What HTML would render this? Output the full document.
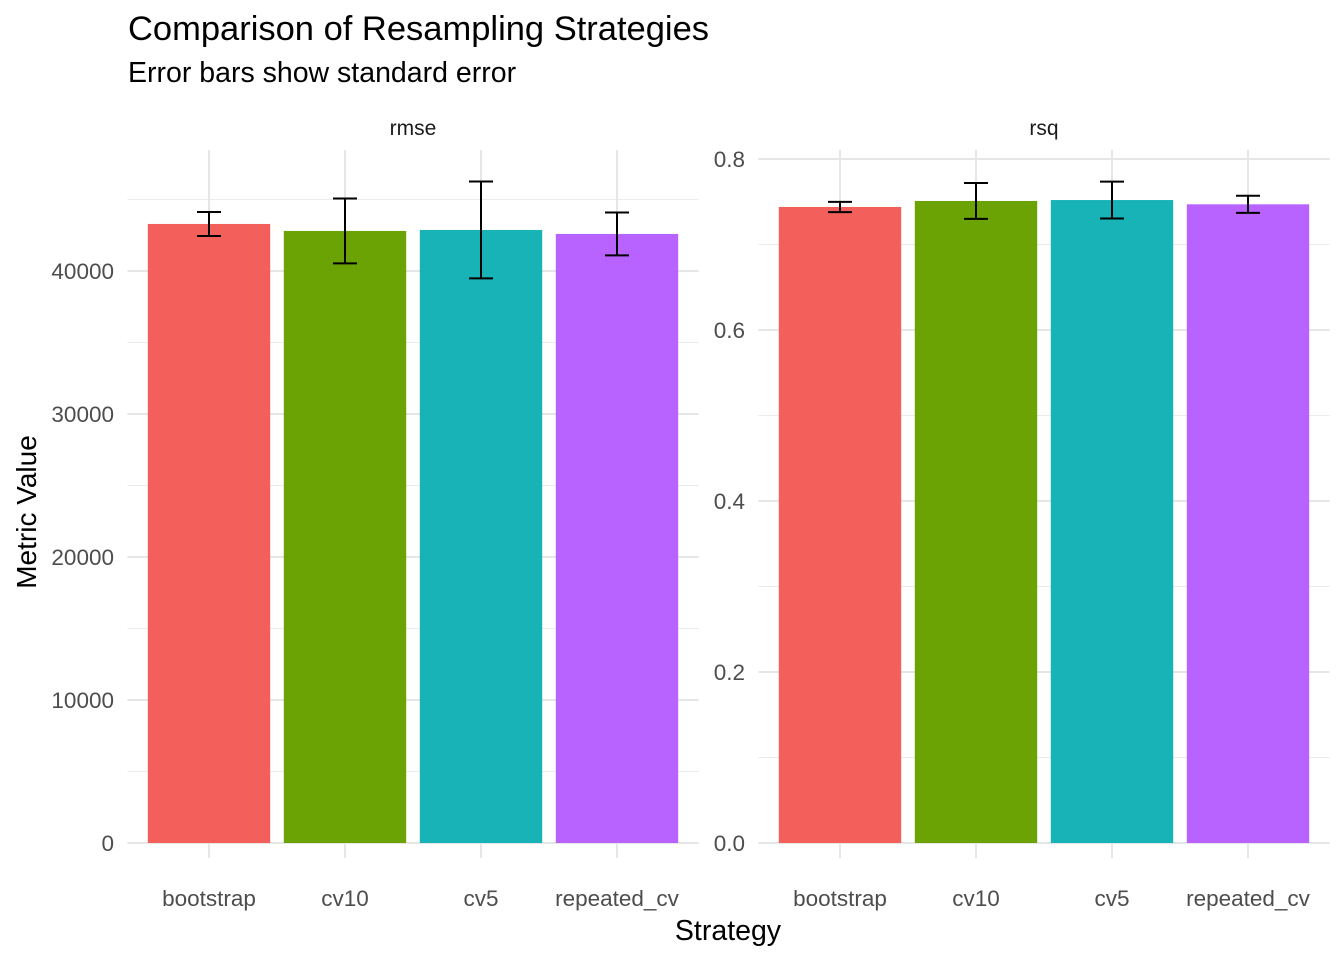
<!DOCTYPE html>
<html><head><meta charset="utf-8"><style>
body{margin:0;background:#fff;font-family:"Liberation Sans",Arial,sans-serif}
</style></head><body>
<svg id="chart" width="1344" height="960" xmlns="http://www.w3.org/2000/svg" font-family="Liberation Sans, Arial, sans-serif">
<text x="128" y="40" font-size="34.5" fill="#000">Comparison of Resampling Strategies</text>
<text x="128" y="82" font-size="28.5" fill="#000">Error bars show standard error</text>
<text x="728" y="940" font-size="28.5" text-anchor="middle">Strategy</text>
<text transform="translate(36,512) rotate(-90)" font-size="28" text-anchor="middle">Metric Value</text>
<g id="plot"></g>
</svg>
<script>
const categories = ["bootstrap","cv10","cv5","repeated_cv"];
const colors = ["#F35F5A","#6BA304","#17B3B7","#B862FF"];
const rmseValues = [43290, 42800, 42870, 42590];
const rmseErrors = [840, 2270, 3390, 1500];
const rsqValues = [0.7439, 0.7509, 0.752, 0.747];
const rsqErrors = [0.006, 0.021, 0.0216, 0.01];
const rmseTicks = [0, 10000, 20000, 30000, 40000];
const rsqTicks = [0, 0.2, 0.4, 0.6, 0.8];
const rsqTickLabels = ["0.0","0.2","0.4","0.6","0.8"];

const NS = "http://www.w3.org/2000/svg";
const plotG = document.getElementById("plot");
function mk(tag, attrs, parent){const e=document.createElementNS(NS,tag);for(const k in attrs)e.setAttribute(k,attrs[k]);(parent||plotG).appendChild(e);return e;}

const panels = [
  {name:"rmse", x0:127.4, x1:698.6, vals:rmseValues, errs:rmseErrors, ticks:rmseTicks, labels:rmseTicks.map(String), yScale:v=>843 - v/10000*143, yMax:48000, minorStep:5000, labelX:114},
  {name:"rsq", x0:758.4, x1:1329.6, vals:rsqValues, errs:rsqErrors, ticks:rsqTicks, labels:rsqTickLabels, yScale:v=>843 - v/0.8*684, yMax:0.81, minorStep:0.1, labelX:745}
];
const panelTop = 150, panelBottom = 858;
panels.forEach(p=>{
  const pg = mk("g",{});
  
  
  const step = (p.x1-p.x0)/(categories.length - 1 + 1.2);
  const xc = i => p.x0 + step*(0.6+i);
  for(let k=1; k*p.minorStep <= p.yMax+1e-9; k+=2){
    const y=p.yScale(k*p.minorStep);
    const l=mk("line",{x1:p.x0,x2:p.x1,y1:y,y2:y,stroke:"#ebebeb","stroke-width":1},pg);
    
    
  }
  p.ticks.forEach((t,i)=>{
    const y=p.yScale(t);
    const l=mk("line",{x1:p.x0,x2:p.x1,y1:y,y2:y,stroke:"#e6e6e6","stroke-width":2},pg);
    
    
    const tx=mk("text",{x:p.labelX,y:y+8,"font-size":"22.5","text-anchor":"end",fill:"#4d4d4d"},pg);
    tx.textContent=p.labels[i];
    
    
  });
  categories.forEach((c,i)=>{
    const x=xc(i);
    const l=mk("line",{x1:x,x2:x,y1:panelTop,y2:panelBottom,stroke:"#e6e6e6","stroke-width":2},pg);
    
    
  });
  categories.forEach((c,i)=>{
    const x=xc(i), w=step*0.9;
    const y=p.yScale(p.vals[i]);
    const r=mk("rect",{x:x-w/2,y:y,width:w,height:p.yScale(0)-y,fill:colors[i]},pg);
    
    
    const yh=p.yScale(p.vals[i]+p.errs[i]), yl=p.yScale(p.vals[i]-p.errs[i]);
    const eb=mk("path",{d:`M${x-12},${yh}H${x+12}M${x},${yh}V${yl}M${x-12},${yl}H${x+12}`,stroke:"#000","stroke-width":2,fill:"none"},pg);
    
    
    const t=mk("text",{x:x,y:906,"font-size":"22.5","text-anchor":"middle",fill:"#4d4d4d"},pg);
    t.textContent=c;
    
    
  });
  const st=mk("text",{x:(p.x0+p.x1)/2,y:135,"font-size":"21","text-anchor":"middle",fill:"#1a1a1a"},pg);
  st.textContent=p.name;
  
  
});
</script>
</body></html>
